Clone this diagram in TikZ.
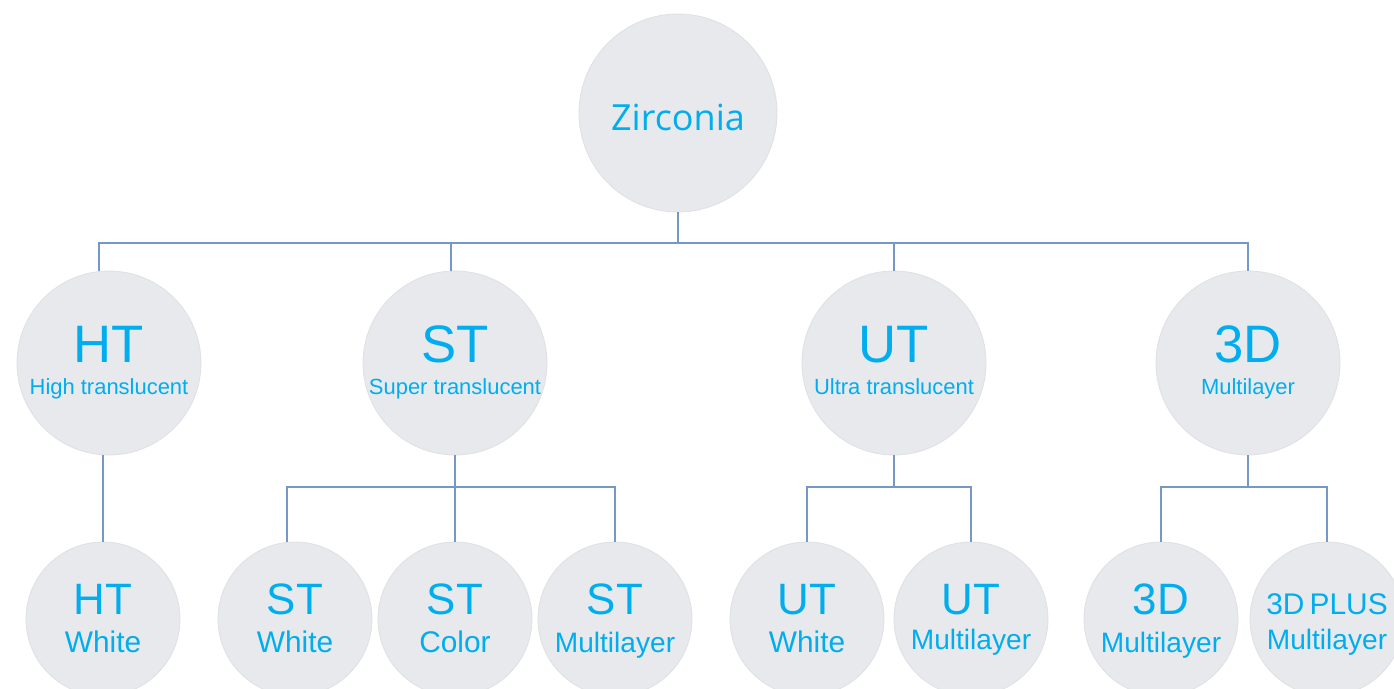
\documentclass[tikz,border=0pt]{standalone}
\usepackage{fontspec}
\setmainfont{Liberation Sans}
\newfontfamily\rootfont{Open Sans}
\usetikzlibrary{positioning}

\definecolor{zcyan}{RGB}{0,174,239}
\definecolor{discgray}{RGB}{232,233,236}
\definecolor{discedge}{RGB}{224,225,228}
\definecolor{linkblue}{RGB}{118,152,198}

\begin{document}
\begin{tikzpicture}[x=0.02cm, y=-0.02cm,
    disc/.style = {circle, fill=discgray, draw=discedge, line width=0.5pt, inner sep=0pt},
    root/.style = {disc, minimum size=3.96cm},
    branch/.style = {disc, minimum size=3.68cm},
    leaf/.style = {disc, minimum size=3.08cm},
    link/.style = {draw=linkblue, line width=1.1pt},
    txt/.style = {text=zcyan, anchor=base, inner sep=0pt},
    rootname/.style = {txt, font=\rootfont\fontsize{20.5}{20.5}\selectfont},
    bigname/.style = {txt, font=\fontsize{30}{30}\selectfont},
    subname/.style = {txt, font=\fontsize{12.5}{12.5}\selectfont},
    leafname/.style = {txt, font=\fontsize{25}{25}\selectfont},
    leafsub/.style = {txt, font=\fontsize{17}{17}\selectfont},
    layersub/.style = {txt, font=\fontsize{16}{16}\selectfont}]
            \useasboundingbox (0,0) rectangle (1394,689);
            \clip (0,0) rectangle (1394,689);
            % circles
            \node (zirc) [root] at (678,113) {};
            \node (ht) [branch] at (109,363) {};
            \node (st) [branch] at (455,363) {};
            \node (ut) [branch] at (894,363) {};
            \node (dd) [branch] at (1248,363) {};
            \node (htw) [leaf] at (103,619) {};
            \node (stw) [leaf] at (295,619) {};
            \node (stc) [leaf] at (455,619) {};
            \node (stm) [leaf] at (615,619) {};
            \node (utw) [leaf] at (807,619) {};
            \node (utm) [leaf] at (971,619) {};
            \node (ddm) [leaf] at (1161,619) {};
            \node (ddp) [leaf] at (1327,619) {};
            % labels
            \node (zirc-a) [rootname] at ([yshift=-9.7pt]zirc.center) {Zirconia};
            \node (ht-a) [bigname] at (ht.center) {HT};
            \node (ht-b) [subname] at ([yshift=-18.2pt]ht.center) {High translucent};
            \node (st-a) [bigname] at (st.center) {ST};
            \node (st-b) [subname] at ([yshift=-18.2pt]st.center) {Super translucent};
            \node (ut-a) [bigname] at (ut.center) {UT};
            \node (ut-b) [subname] at ([yshift=-18.2pt]ut.center) {Ultra translucent};
            \node (dd-a) [bigname] at (dd.center) {3D};
            \node (dd-b) [subname] at ([yshift=-18.2pt]dd.center) {Multilayer};
            \node (htw-a) [leafname] at ([yshift=2.3pt]htw.center) {HT};
            \node (htw-b) [leafsub] at ([yshift=-19.3pt]htw.center) {White};
            \node (stw-a) [leafname] at ([yshift=2.3pt]stw.center) {ST};
            \node (stw-b) [leafsub] at ([yshift=-19.3pt]stw.center) {White};
            \node (stc-a) [leafname] at ([yshift=2.3pt]stc.center) {ST};
            \node (stc-b) [leafsub] at ([yshift=-19.3pt]stc.center) {Color};
            \node (stm-a) [leafname] at ([yshift=2.3pt]stm.center) {ST};
            \node (stm-b) [layersub] at ([yshift=-19.3pt]stm.center) {Multilayer};
            \node (utw-a) [leafname] at ([yshift=2.3pt]utw.center) {UT};
            \node (utw-b) [leafsub] at ([yshift=-19.3pt]utw.center) {White};
            \node (utm-a) [leafname] at ([yshift=2.3pt]utm.center) {UT};
            \node (utm-b) [layersub] at ([yshift=-17.1pt]utm.center) {Multilayer};
            \node (ddm-a) [leafname] at ([yshift=2.3pt]ddm.center) {3D};
            \node (ddm-b) [layersub] at ([yshift=-19.3pt]ddm.center) {Multilayer};
            \node (ddp-a) [txt, font=\fontsize{17}{17}\selectfont] at ([yshift=2.3pt]ddp.center) {3D\kern-0.1em{} PLUS};
            \node (ddp-b) [layersub] at ([yshift=-17.1pt]ddp.center) {Multilayer};
            % connectors
            \coordinate (topbus) at (678,243);
            \coordinate (stbus) at (455,487);
            \coordinate (utbus) at (894,487);
            \coordinate (ddbus) at (1248,487);
            \draw [link] (zirc) -- (topbus);
            \draw [link] (topbus) -| ([xshift=-5.7pt]ht.north);
            \draw [link] (topbus) -| ([xshift=-2.3pt]st.north);
            \draw [link] (topbus) -| (ut);
            \draw [link] (topbus) -| (dd);
            \draw [link] (htw) -- (htw |- ht.south);
            \draw [link] (st) -- (stbus);
            \draw [link] (stbus) -| ([xshift=-4.6pt]stw.north);
            \draw [link] (stbus) -- (stc);
            \draw [link] (stbus) -| (stm);
            \draw [link] (ut) -- (utbus);
            \draw [link] (utbus) -| (utw);
            \draw [link] (utbus) -| (utm);
            \draw [link] (dd) -- (ddbus);
            \draw [link] (ddbus) -| (ddm);
            \draw [link] (ddbus) -| (ddp);
        \end{tikzpicture}
\end{document}
